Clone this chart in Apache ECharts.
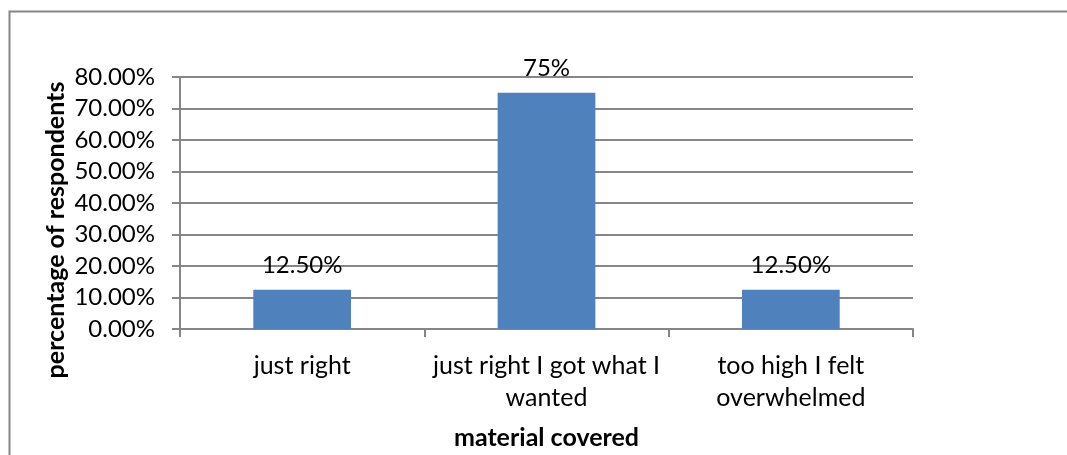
<!DOCTYPE html>
<html>
<head>
<meta charset="utf-8">
<script src="https://cdn.jsdelivr.net/npm/echarts@6/dist/echarts.min.js"></script>
<style>
  html, body { margin: 0; padding: 0; background: #fff; }
  #chart { width: 1067px; height: 455px; }
</style>
</head>
<body>
<div id="chart"></div>
<script>
// Survey responses: how the amount of material covered felt
const categories = ['just right', 'just right I got what I\nwanted', 'too high I felt\noverwhelmed'];
const shares = [12.5, 75, 12.5];            // percentage of respondents
const shareLabels = ['12.50%', '75%', '12.50%'];
const yTicks = { min: 0, max: 80, step: 10 };
const xTitle = 'material covered';
const yTitle = 'percentage of respondents';

const FONT = 'Lato, "Open Sans", sans-serif';
const AXIS_GRAY = '#868686';

const chart = echarts.init(document.getElementById('chart'), null, { renderer: 'canvas' });

chart.setOption({
  animation: false,
  backgroundColor: '#ffffff',
  graphic: [
    {
      type: 'rect',
      shape: { x: 9.5, y: 11.5, width: 1080, height: 480 },
      style: { fill: 'none', stroke: AXIS_GRAY, lineWidth: 2 },
      silent: true
    },
    {
      // vertical axis title
      type: 'text',
      x: 56,
      y: 230,
      rotation: Math.PI / 2,
      style: {
        text: yTitle,
        fontFamily: FONT,
        fontSize: 25,
        fontWeight: 'bold',
        fill: '#000',
        align: 'center',
        verticalAlign: 'middle'
      },
      silent: true
    }
  ],
  grid: { left: 180, right: 154, top: 77, bottom: 124, containLabel: false },
  xAxis: {
    type: 'category',
    data: categories,
    name: xTitle,
    nameLocation: 'middle',
    nameGap: 96,
    nameTextStyle: { fontFamily: FONT, fontSize: 25, fontWeight: 'bold', color: '#000' },
    axisLine: { show: true, lineStyle: { color: AXIS_GRAY, width: 2 } },
    axisTick: { show: true, alignWithLabel: false, length: 8, lineStyle: { color: AXIS_GRAY, width: 2 } },
    axisLabel: { fontFamily: FONT, fontSize: 25, color: '#000', margin: 21, lineHeight: 32, interval: 0 }
  },
  yAxis: {
    type: 'value',
    min: yTicks.min,
    max: yTicks.max,
    interval: yTicks.step,
    axisLine: { show: true, lineStyle: { color: AXIS_GRAY, width: 2 } },
    axisTick: { show: true, inside: false, length: 8, lineStyle: { color: AXIS_GRAY, width: 2 } },
    splitLine: { show: true, lineStyle: { color: AXIS_GRAY, width: 2 } },
    axisLabel: {
      fontFamily: FONT, fontSize: 24, color: '#000', margin: 25,
      formatter: v => v.toFixed(2) + '%'
    }
  },
  series: [{
    type: 'bar',
    data: shares,
    barWidth: '40%',
    itemStyle: { color: '#4F81BD' },
    label: {
      show: true,
      position: 'top',
      distance: 12,
      fontFamily: FONT,
      fontSize: 24,
      color: '#000',
      formatter: p => shareLabels[p.dataIndex]
    }
  }]
});
</script>
</body>
</html>
